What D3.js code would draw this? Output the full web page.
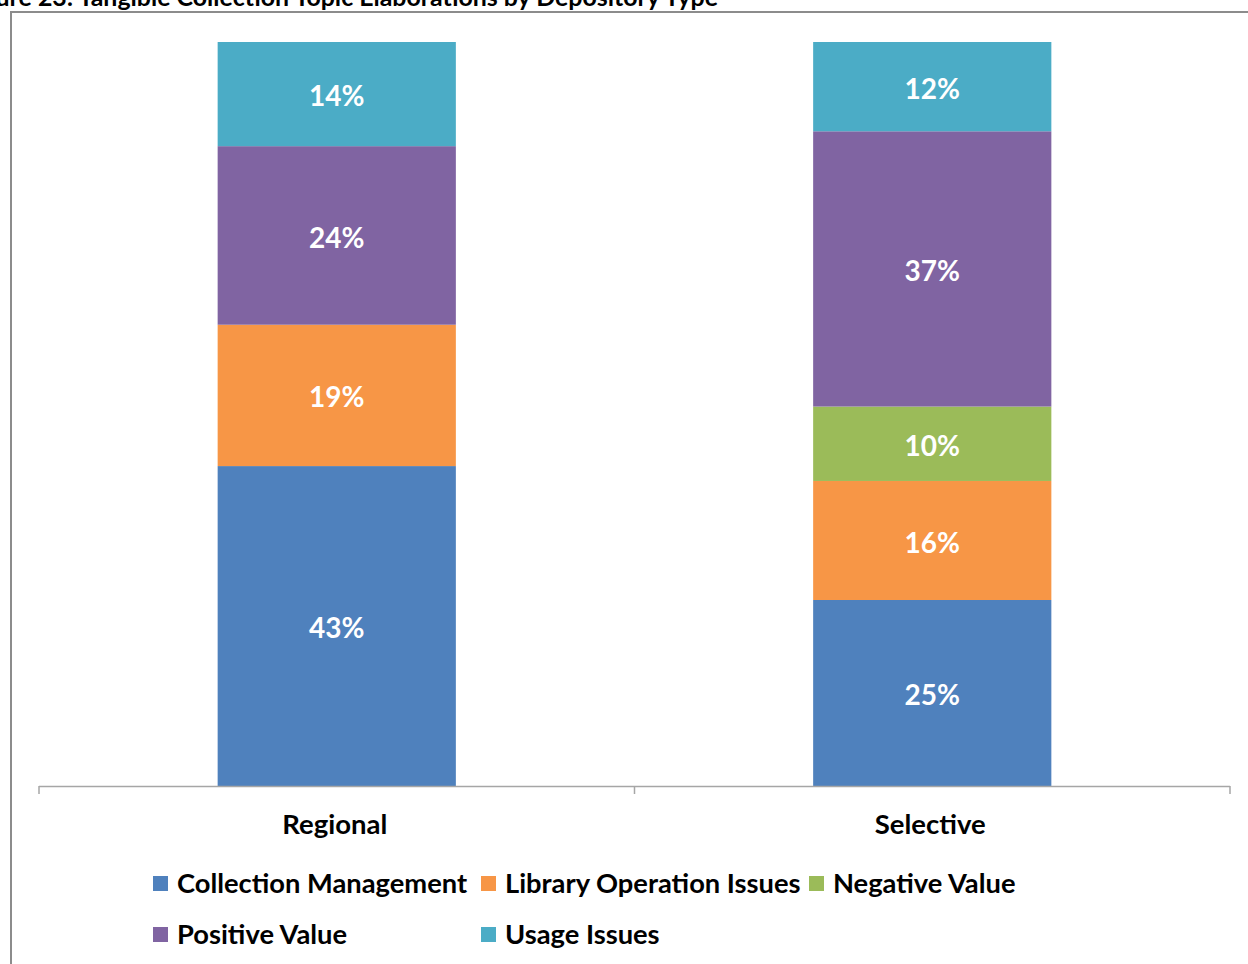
<!DOCTYPE html>
<html>
<head>
<meta charset="utf-8">
<script src="https://cdnjs.cloudflare.com/ajax/libs/d3/7.8.5/d3.min.js"></script>
<style>
  body { margin: 0; background: #fff; }
  svg { display: block; font-family: Lato, "Open Sans", sans-serif; }
</style>
</head>
<body>
<svg id="chart" width="1248" height="964"></svg>
<script>
// depository types and topic series (percent of each bar)
var categories = ["Regional", "Selective"];
var seriesNames = ["Collection Management", "Library Operation Issues", "Negative Value", "Positive Value", "Usage Issues"];
var regionalValues = [43, 19, 0, 24, 14];
var selectiveValues = [25, 16, 10, 37, 12];
var seriesColors = ["#4F81BD", "#F79646", "#9BBB59", "#8064A2", "#4BACC6"];

var table = categories.map(function(c, i) {
    var vals = i === 0 ? regionalValues : selectiveValues;
    var row = { category: c };
    seriesNames.forEach(function(s, j) { row[s] = vals[j]; });
    return row;
});

var svg = d3.select("#chart");

// title (cut off at the top/left edge like the source image)
svg.append("text")
    .attr("x", 718).attr("y", 6)
    .attr("text-anchor", "end")
    .attr("font-weight", "bold")
    .attr("font-size", 24)
    .attr("textLength", 756)
    .attr("lengthAdjust", "spacingAndGlyphs")
    .attr("fill", "#000")
    .text("Figure 23: Tangible Collection Topic Elaborations by Depository Type");

// chart frame, runs off the right and bottom edges
svg.append("rect")
    .attr("x", 11).attr("y", 12)
    .attr("width", 1260).attr("height", 980)
    .attr("fill", "none")
    .attr("stroke", "#8c8c8c")
    .attr("stroke-width", 2);

var plotLeft = 39, plotRight = 1230, plotTop = 42, plotBottom = 786;

var x = d3.scaleBand()
    .domain(categories)
    .range([plotLeft, plotRight])
    .paddingInner(0.6)
    .paddingOuter(0.3);

var y = d3.scaleLinear()
    .domain([0, 100])
    .range([plotBottom, plotTop]);

var color = d3.scaleOrdinal().domain(seriesNames).range(seriesColors);

var stacked = d3.stack().keys(seriesNames)(table);

var layers = svg.append("g").selectAll("g")
    .data(stacked)
    .join("g")
    .attr("fill", function(d) { return color(d.key); });

layers.selectAll("rect")
    .data(function(d) { return d.filter(function(p) { return p[1] - p[0] > 0; }); })
    .join("rect")
    .attr("x", function(d) { return x(d.data.category); })
    .attr("width", x.bandwidth())
    .attr("y", function(d) { return y(d[1]); })
    .attr("height", function(d) { return y(d[0]) - y(d[1]); });

layers.selectAll("text")
    .data(function(d) { return d.filter(function(p) { return p[1] - p[0] > 0; }); })
    .join("text")
    .attr("x", function(d) { return x(d.data.category) + x.bandwidth() / 2; })
    .attr("y", function(d) { return (y(d[0]) + y(d[1])) / 2 + 2; })
    .attr("dy", "0.36em")
    .attr("text-anchor", "middle")
    .attr("fill", "#fff")
    .attr("font-weight", "bold")
    .attr("font-size", 28)
    .text(function(d) { return (d[1] - d[0]) + "%"; });

// category axis with boundary ticks
var axisG = svg.append("g");
axisG.append("line")
    .attr("x1", plotLeft).attr("x2", plotRight)
    .attr("y1", plotBottom + 0.5).attr("y2", plotBottom + 0.5)
    .attr("stroke", "#a6a6a6").attr("stroke-width", 1.5);
var step = (plotRight - plotLeft) / categories.length;
d3.range(categories.length + 1).forEach(function(i) {
    var tx = plotLeft + i * step;
    axisG.append("line")
        .attr("x1", tx).attr("x2", tx)
        .attr("y1", plotBottom).attr("y2", plotBottom + 8)
        .attr("stroke", "#a6a6a6").attr("stroke-width", 1.5);
});
axisG.selectAll("text.cat")
    .data(categories)
    .join("text")
    .attr("class", "cat")
    .attr("x", function(d) { return x(d) + x.bandwidth() / 2 - 2; })
    .attr("y", 824)
    .attr("dy", "0.35em")
    .attr("text-anchor", "middle")
    .attr("font-weight", "bold")
    .attr("font-size", 27.5)
    .attr("fill", "#000")
    .text(function(d) { return d; });

// legend, three per row
var legend = svg.append("g").selectAll("g")
    .data(seriesNames)
    .join("g")
    .attr("transform", function(d, i) {
        return "translate(" + (153 + (i % 3) * 328) + "," + (883 + Math.floor(i / 3) * 51) + ")";
    });
legend.append("rect")
    .attr("x", 0).attr("y", -7)
    .attr("width", 15).attr("height", 15)
    .attr("fill", function(d) { return color(d); });
legend.append("text")
    .attr("x", 24).attr("y", 0)
    .attr("dy", "0.35em")
    .attr("font-weight", "bold")
    .attr("font-size", 27.3)
    .attr("fill", "#000")
    .text(function(d) { return d; });
</script>
</body>
</html>
